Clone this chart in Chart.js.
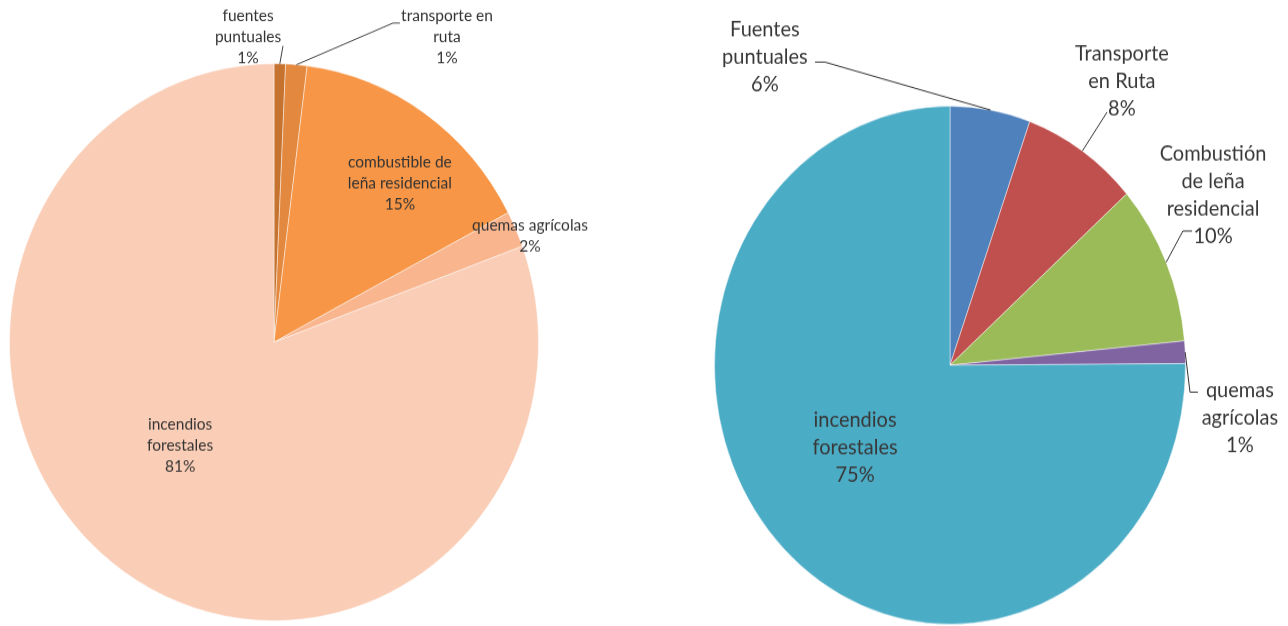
<!DOCTYPE html>
<html lang="es">
<head>
  <meta charset="UTF-8">
  <title>Fuentes de emisión</title>
  <script src="https://cdn.jsdelivr.net/npm/chart.js"></script>
  <style>
    html, body { margin: 0; padding: 0; background: #fff; width: 1288px; height: 626px; overflow: hidden; }
    .wrap { position: absolute; top: 0; transform-origin: 0 0; }
    /* the source pies are slightly taller than wide, so stretch vertically */
    #leftWrap { left: 0; width: 600px; height: 594px; transform: scaleY(1.053); }
    #rightWrap { left: 640px; width: 648px; height: 569px; transform: scaleY(1.1); }
  </style>
</head>
<body>
  <div id="leftWrap" class="wrap"><canvas id="leftChart" width="600" height="594"></canvas></div>
  <div id="rightWrap" class="wrap"><canvas id="rightChart" width="648" height="569"></canvas></div>

  <script>
    // left pie
    const leftCategories = ['fuentes\npuntuales', 'transporte en\nruta', 'combustible de\nleña residencial', 'quemas agrícolas', 'incendios\nforestales'];
    const leftValues = [0.7, 1.3, 15.3, 2.1, 80.6];
    const leftColors = ['#C6732F', '#E2883F', '#F79646', '#F8B58E', '#FACDB6'];

    // right pie
    const rightCategories = ['Fuentes\npuntuales', 'Transporte\nen Ruta', 'Combustión\nde leña\nresidencial', 'quemas\nagrícolas', 'incendios\nforestales'];
    const rightValues = [5.5, 8.0, 10.0, 1.4, 75.1];
    const rightColors = ['#4F81BD', '#C0504D', '#9BBB59', '#8064A2', '#4BACC6'];

    // label placement, in multiples of the pie radius from its centre
    const leftLayout = [
      { dx: -0.098, dy: -1.096, leader: [[0.034, -1.064]] },
      { dx: 0.654, dy: -1.096, leader: [[0.450, -1.146], [0.476, -1.146]] },
      { dx: 0.476, dy: -0.572 },
      { dx: 0.968, dy: -0.380 },
      { dx: -0.355, dy: 0.369 }
    ];
    const rightLayout = [
      { dx: -0.786, dy: -1.190, leader: [[-0.531, -1.170], [-0.573, -1.170]] },
      { dx: 0.730, dy: -1.097, leader: [[0.667, -0.977]] },
      { dx: 1.117, dy: -0.657, leader: [[0.989, -0.518], [1.028, -0.518]] },
      { dx: 1.231, dy: 0.200, leader: [[1.019, 0.104], [1.053, 0.104]] },
      { dx: -0.403, dy: 0.316 }
    ];

    // draws category + percent text and leader lines
    const sliceLabels = {
      id: 'sliceLabels',
      afterDatasetsDraw(chart, args, opts) {
        const ctx = chart.ctx;
        const meta = chart.getDatasetMeta(0);
        const data = chart.data.datasets[0].data;
        const total = data.reduce((a, b) => a + b, 0);
        ctx.save();
        ctx.font = opts.font;
        ctx.fillStyle = opts.color;
        ctx.strokeStyle = opts.lineColor;
        ctx.lineWidth = 1;
        ctx.textAlign = 'center';
        ctx.textBaseline = 'middle';
        meta.data.forEach((arc, i) => {
          const p = arc.getProps(['x', 'y', 'startAngle', 'endAngle', 'outerRadius'], true);
          const r = p.outerRadius;
          const place = opts.layout[i];
          if (place.leader) {
            const mid = (p.startAngle + p.endAngle) / 2;
            ctx.beginPath();
            ctx.moveTo(p.x + Math.cos(mid) * r, p.y + Math.sin(mid) * r);
            place.leader.forEach(([lx, ly]) => ctx.lineTo(p.x + lx * r, p.y + ly * r));
            ctx.stroke();
          }
          const lines = chart.data.labels[i].split('\n').concat(Math.round(data[i] / total * 100) + '%');
          const cx = p.x + place.dx * r;
          const top = p.y + place.dy * r - (lines.length - 1) * opts.lineHeight / 2;
          lines.forEach((t, k) => ctx.fillText(t, cx, top + k * opts.lineHeight));
        });
        ctx.restore();
      }
    };

    function makePie(id, labels, values, colors, padding, labelOpts) {
      return new Chart(document.getElementById(id), {
        type: 'pie',
        data: {
          labels: labels,
          datasets: [{
            data: values,
            backgroundColor: colors,
            borderColor: 'rgba(255,255,255,0.45)',
            borderWidth: 1
          }]
        },
        options: {
          responsive: false,
          animation: false,
          layout: { padding: padding },
          plugins: {
            legend: { display: false },
            tooltip: { enabled: false },
            sliceLabels: labelOpts
          }
        },
        plugins: [sliceLabels]
      });
    }

    makePie('leftChart', leftCategories, leftValues, leftColors,
      { left: 9, top: 60, right: 61, bottom: 4 },
      { font: '15.5px Lato', color: '#333333', lineColor: '#404040', lineHeight: 20, layout: leftLayout });

    makePie('rightChart', rightCategories, rightValues, rightColors,
      { left: 74, top: 96, right: 102, bottom: 1 },
      { font: '20px Lato', color: '#383838', lineColor: '#333333', lineHeight: 25, layout: rightLayout });
  </script>
</body>
</html>
